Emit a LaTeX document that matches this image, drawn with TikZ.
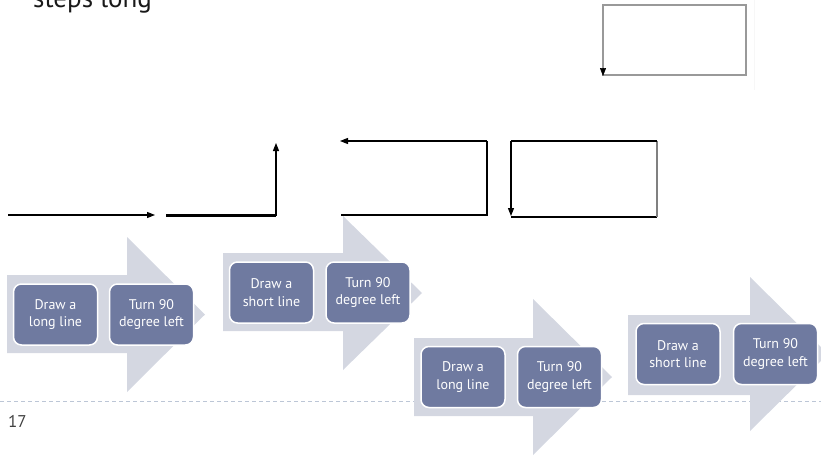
\documentclass[tikz,border=0pt]{standalone}
\usepackage{fontspec}
\setmainfont{PT Sans}
\usetikzlibrary{arrows.meta}
\definecolor{boxblue}{HTML}{6F7AA0}
\definecolor{chevgray}{HTML}{D4D7E1}
\definecolor{rulegray}{HTML}{BCC6D6}
\begin{document}
\begin{tikzpicture}[x=1pt,y=-1pt,
        chev/.style={fill=chevgray},
        stepbox/.style={fill=boxblue, draw=white, line width=1.5pt, rounded corners=8pt,
            minimum width=84pt, minimum height=61pt, inner sep=0pt, text=white, align=center,
            font=\fontsize{14}{17.5}\selectfont},
        thin/.style={line width=1.1pt},
        thick/.style={line width=2.4pt},
        tip/.style={-{Triangle[length=8pt,width=6pt]}}]
        \useasboundingbox (0,0) rectangle (821,455);
        \draw [rulegray, line width=1pt, dash pattern=on 4pt off 3pt] (0,401) -- (821,401);
        \draw [black!3, line width=1pt] (754,0) -- (754,90);
        \node (title) [anchor=base west, inner sep=0pt, text=black!90, font=\fontsize{27}{30}\selectfont] at (33,8) {steps long};
        \node (page) [anchor=base west, inner sep=0pt, text=black!75, font=\fontsize{17}{20}\selectfont] at (8,427) {17};
        \draw [black!40, line width=1.5pt] (603,5) rectangle (746,75);
        \draw [black, tip, line width=0.5pt] (603,69) -- (603,76);
        \coordinate (a0) at (8,215);
        \coordinate (a1) at (155,215);
        \draw [thin, tip] (a0) -- (a1);
        \coordinate (b0) at (166,215.5);
        \coordinate (b1) at (276,215.5);
        \coordinate (b2) at (276,143);
        \draw [thick] (b0) -- (b1);
        \draw [thin, tip] (b1) -- (b2);
        \coordinate (c0) at (341,215);
        \coordinate (c1) at (487,215);
        \coordinate (c2) at (487,141);
        \coordinate (c3) at (340,141);
        \draw [thick, line join=miter] (c0) -- (c1) -- (c2);
        \draw [thin, tip] (c2) -- (c3);
        \coordinate (d0) at (511,141);
        \coordinate (d1) at (657,141);
        \coordinate (d2) at (657,217);
        \coordinate (d3) at (511,217);
        \draw [thin] (d3) -- (d2);
        \draw [thin, black!50] (d2) -- (d1);
        \draw [thin] (d1) -- (d0);
        \draw [thin, tip] (d0) -- (511,216);
        \fill [chev] (7,275) -- (127,275) -- (127,237) -- (205,314.5) -- (127,392) -- (127,353) -- (7,353) -- cycle;
        \fill [chev] (223,253) -- (343,253) -- (343,216) -- (422,293) -- (343,370) -- (343,331) -- (223,331) -- cycle;
        \fill [chev] (414,338) -- (533,338) -- (533,299) -- (612,377) -- (533,455) -- (533,416) -- (414,416) -- cycle;
        \fill [chev] (628,315) -- (750,315) -- (750,277) -- (828,354) -- (750,431) -- (750,395) -- (628,395) -- cycle;
        \node (draw1) [stepbox] at (55.5,314.5) {Draw a\\long line};
        \node (turn1) [stepbox] at (151.5,314.5) {Turn 90\\degree left};
        \node (draw2) [stepbox] at (271.5,292.5) {Draw a\\short line};
        \node (turn2) [stepbox] at (368,292.5) {Turn 90\\degree left};
        \node (draw3) [stepbox] at (463,377) {Draw a\\long line};
        \node (turn3) [stepbox] at (559.5,377) {Turn 90\\degree left};
        \node (draw4) [stepbox] at (678,354) {Draw a\\short line};
        \node (turn4) [stepbox] at (775.5,354) {Turn 90\\degree left};
\end{tikzpicture}
\end{document}
